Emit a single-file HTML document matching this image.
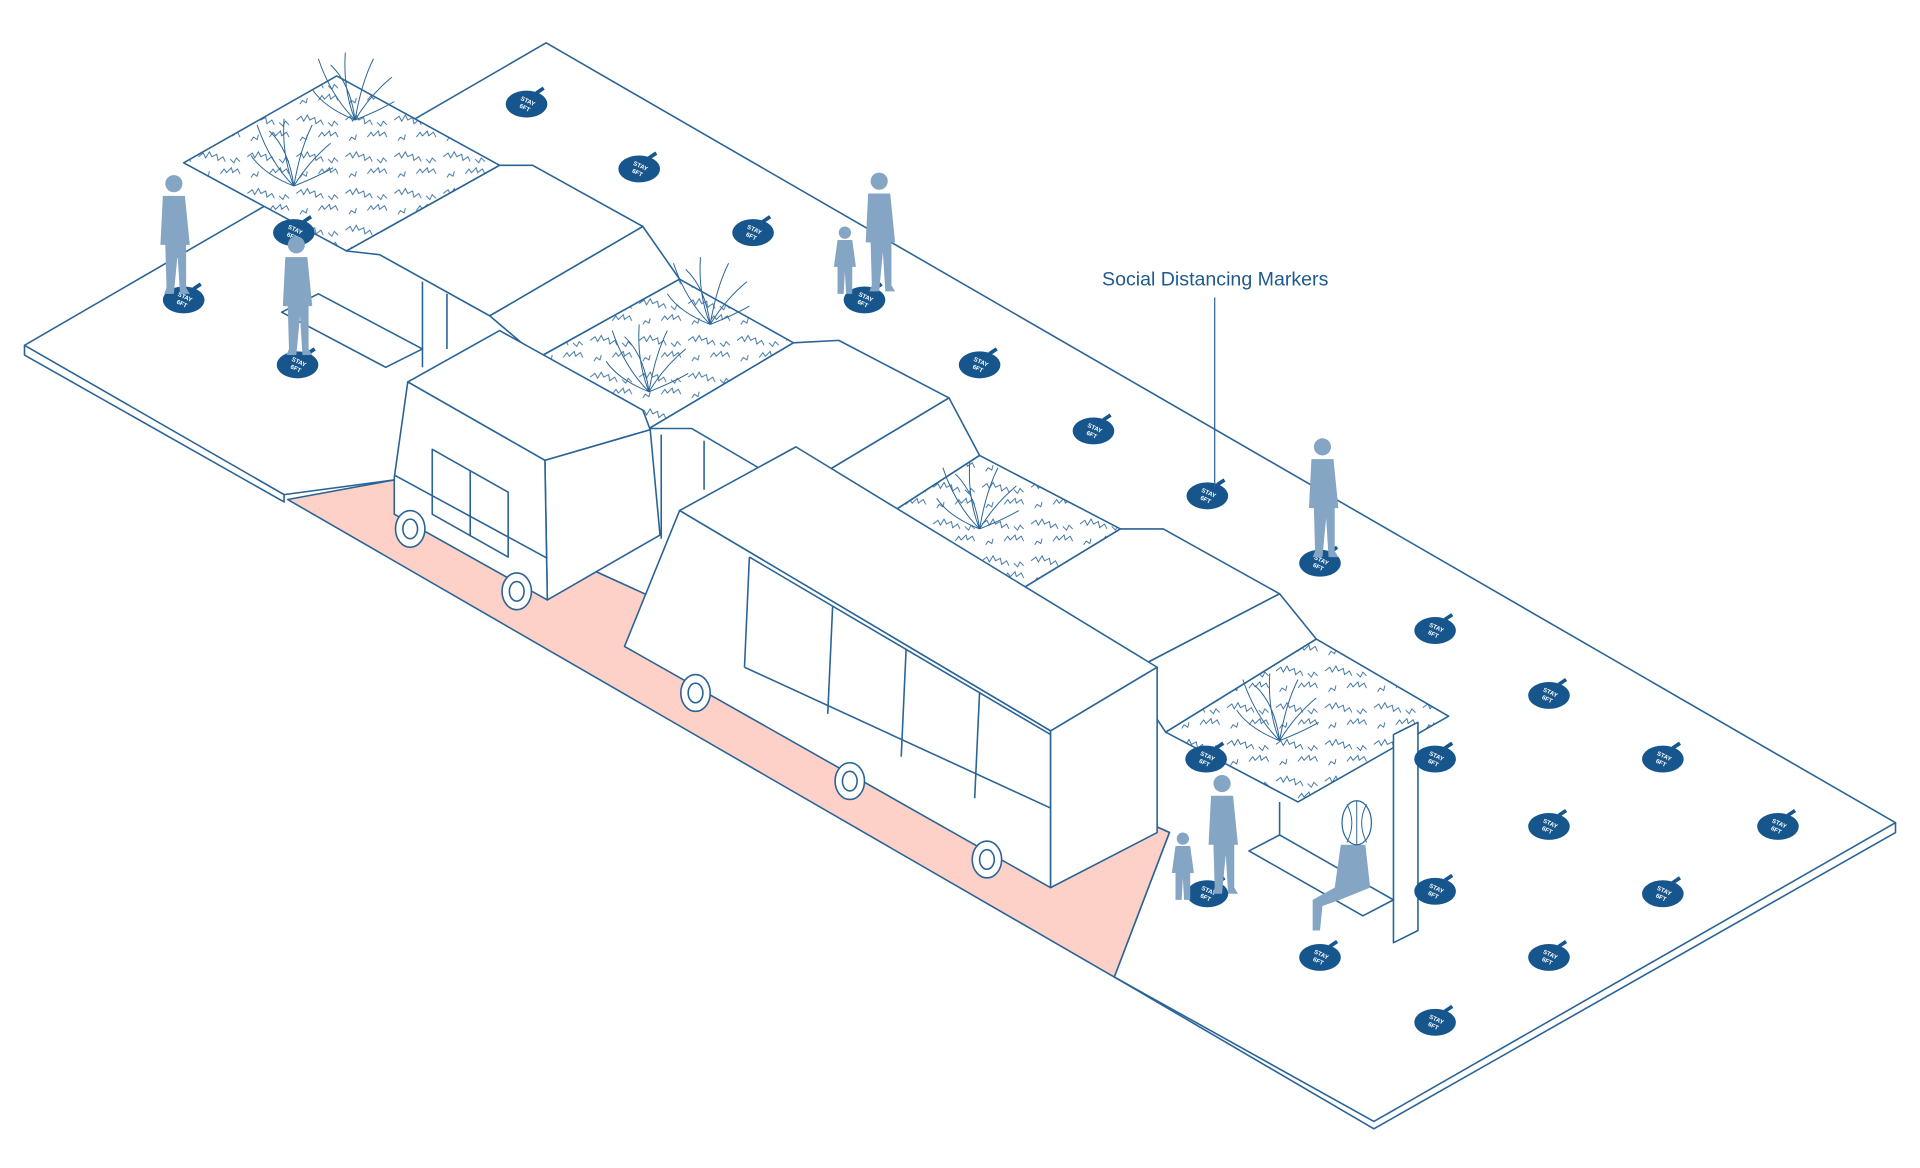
<!DOCTYPE html>
<html><head><meta charset="utf-8"><style>
html,body{margin:0;padding:0;background:#fff;}
svg{display:block;}
text{font-family:"Liberation Sans",sans-serif;}
</style></head><body>
<svg width="1920" height="1168" viewBox="0 0 1568 954" preserveAspectRatio="none" xmlns="http://www.w3.org/2000/svg">
<defs>
<pattern id="sc" width="40" height="30" patternUnits="userSpaceOnUse">
<path d="M2,8 l4,-3 2,4 3,-5 2,4 4,-2 1,5 4,-3 2,4 M20,22 l3,-4 2,3 4,-4 1,4 4,-3 2,4 M5,25 l2,-3 3,2 1,-4 M28,10 l3,3 2,-4 3,3" fill="none" stroke="#2a6496" stroke-width="0.7"/>
</pattern>
<g id="m"><path d="M-17,0a17,11 0 1,0 34,0a17,11 0 1,0 -34,0z" fill="#17568d"/><path d="M8,-9 l6,-4" stroke="#17568d" stroke-width="3"/><text x="0" y="-1" font-size="5" fill="#fff" text-anchor="middle" font-weight="bold" transform="rotate(25)">STAY</text><text x="0" y="5" font-size="5" fill="#fff" text-anchor="middle" font-weight="bold" transform="rotate(25)">6FT</text></g>
<g id="p" fill="#84a5c3"><circle cx="0" cy="-90" r="7"/><path d="M-9,-80 h18 l4,40 -3,0 0,35 3,5 -8,0 -2,-32 -3,32 -8,0 2,-5 -1,-35 -4,0z"/></g>
<g id="k" fill="#84a5c3"><circle cx="0" cy="-50" r="5"/><path d="M-6,-44 h12 l3,22 -3,0 0,22 -5,0 -1,-18 -1,18 -5,0 0,-22 -3,0z"/></g>
<g id="pl" fill="none" stroke="#2a6496" stroke-width="0.8"><path d="M0,0 q-20,-20 -30,-50 M0,0 q-10,-25 -8,-55 M0,0 q5,-30 15,-50 M0,0 q12,-20 30,-35 M0,0 q-25,-10 -35,-25 M0,0 q20,-8 32,-15 M0,0 q-4,-30 -20,-45"/></g>
</defs>
<g stroke="#2a6496" stroke-width="1.3" stroke-linejoin="round" fill="#fff">
<polygon points="20,282 446,35 1548,672 1122,916 910,798 955,680 322,392 232,404"/>
<polyline points="20,282 20,290 232,410 232,404" fill="none"/>
<polyline points="910,798 1122,922 1548,680 1548,672" fill="none"/>
<polygon points="235,408 322,392 955,680 910,798" fill="#fdd0c8"/>
<polyline points="345,230 345,300" fill="none"/><polyline points="365,240 365,285" fill="none"/>
<polygon points="230,255 260,240 345,285 315,300"/>
<polyline points="540,355 540,440" fill="none"/><polyline points="575,360 575,400" fill="none"/>
<polygon points="150,133 275,62 408,135 283,205"/>
<polygon points="150,133 275,62 408,135 283,205" fill="url(#sc)" stroke="none"/>
<polygon points="283,205 408,135 435,135 525,185 400,258 310,208"/>
<polygon points="400,258 525,185 555,228 440,292"/>
<polygon points="440,292 555,228 648,280 530,350"/>
<polygon points="440,292 555,228 648,280 530,350" fill="url(#sc)" stroke="none"/>
<polygon points="530,350 648,280 685,278 775,325 650,400 565,350"/>
<polygon points="650,400 775,325 800,372 695,440"/>
<polygon points="695,440 800,372 915,432 795,505"/>
<polygon points="695,440 800,372 915,432 795,505" fill="url(#sc)" stroke="none"/>
<polygon points="795,505 915,432 950,432 1045,485 920,550 835,505"/>
<polygon points="920,550 1045,485 1075,522 952,598"/>
<polygon points="952,598 1075,522 1183,585 1060,655"/>
<polygon points="952,598 1075,522 1183,585 1060,655" fill="url(#sc)" stroke="none"/>
<polygon points="408,270 525,335 531,351 445,376 333,312"/>
<polygon points="445,376 531,351 539,437 447,490"/>
<polygon points="333,312 445,376 447,490 322,420 322,390"/>
<polygon points="353,367 415,402 415,455 353,420" fill="none"/>
<line x1="384" y1="385" x2="384" y2="438"/><line x1="322" y1="388" x2="447" y2="456"/>
<ellipse cx="335" cy="432" rx="12" ry="15"/><ellipse cx="335" cy="432" rx="6" ry="8"/>
<ellipse cx="422" cy="483" rx="12" ry="15"/><ellipse cx="422" cy="483" rx="6" ry="8"/>
<polygon points="555,417 650,365 945,545 858,597"/>
<polygon points="555,417 858,597 858,725 510,528"/>
<polygon points="858,597 945,545 945,680 858,725"/>
<polyline points="612,455 608,545" fill="none"/><polyline points="680,495 676,583" fill="none"/><polyline points="740,530 736,618" fill="none"/><polyline points="800,565 796,652" fill="none"/>
<line x1="612" y1="455" x2="858" y2="600"/><line x1="608" y1="545" x2="858" y2="660"/>
<ellipse cx="568" cy="566" rx="12" ry="15"/><ellipse cx="568" cy="566" rx="6" ry="8"/>
<ellipse cx="694" cy="638" rx="12" ry="15"/><ellipse cx="694" cy="638" rx="6" ry="8"/>
<ellipse cx="806" cy="702" rx="12" ry="15"/><ellipse cx="806" cy="702" rx="6" ry="8"/>
<polyline points="1045,655 1045,695" fill="none"/>
<polygon points="1138,600 1158,590 1158,760 1138,770"/>
<polygon points="1020,695 1045,682 1138,735 1113,748"/>
</g>
<use href="#pl" x="290" y="98"/><use href="#pl" x="240" y="152"/><use href="#pl" x="580" y="265"/><use href="#pl" x="530" y="320"/><use href="#pl" x="800" y="432"/><use href="#pl" x="1045" y="605"/>
<g>
<use href="#m" x="430" y="85"/><use href="#m" x="522" y="138"/><use href="#m" x="615" y="190"/><use href="#m" x="706" y="245"/><use href="#m" x="800" y="298"/><use href="#m" x="893" y="352"/><use href="#m" x="986" y="405"/><use href="#m" x="1078" y="460"/><use href="#m" x="1172" y="515"/><use href="#m" x="1265" y="568"/><use href="#m" x="1358" y="620"/><use href="#m" x="1452" y="675"/><use href="#m" x="1172" y="620"/><use href="#m" x="1265" y="675"/><use href="#m" x="1358" y="730"/><use href="#m" x="1172" y="728"/><use href="#m" x="1265" y="782"/><use href="#m" x="1078" y="782"/><use href="#m" x="1172" y="835"/><use href="#m" x="986" y="730"/><use href="#m" x="150" y="245"/><use href="#m" x="243" y="298"/><use href="#m" x="240" y="190"/><use href="#m" x="985" y="620"/>
</g>
<use href="#p" x="142" y="240"/><use href="#p" x="242" y="290"/><use href="#p" x="718" y="238"/><use href="#k" x="690" y="240"/><use href="#p" x="1080" y="455"/><use href="#p" x="998" y="730"/><use href="#k" x="966" y="735"/>
<g fill="#84a5c3"><path d="M1095,690 h20 l4,35 -25,10 -14,5 -2,20 -6,0 0,-25 18,-10z"/></g>
<ellipse cx="1108" cy="672" rx="12" ry="18" fill="#fff" stroke="#2a6496" stroke-width="1"/>
<path d="M1100,657 q8,15 0,31 M1108,654 v36 M1116,657 q-8,15 0,31" fill="none" stroke="#2a6496" stroke-width="0.8"/>
<text x="900" y="233" font-size="16" fill="#1f5a8f">Social Distancing Markers</text>
<line x1="992" y1="243" x2="992" y2="398" stroke="#2a6496" stroke-width="1"/>
</svg>
</body></html>
